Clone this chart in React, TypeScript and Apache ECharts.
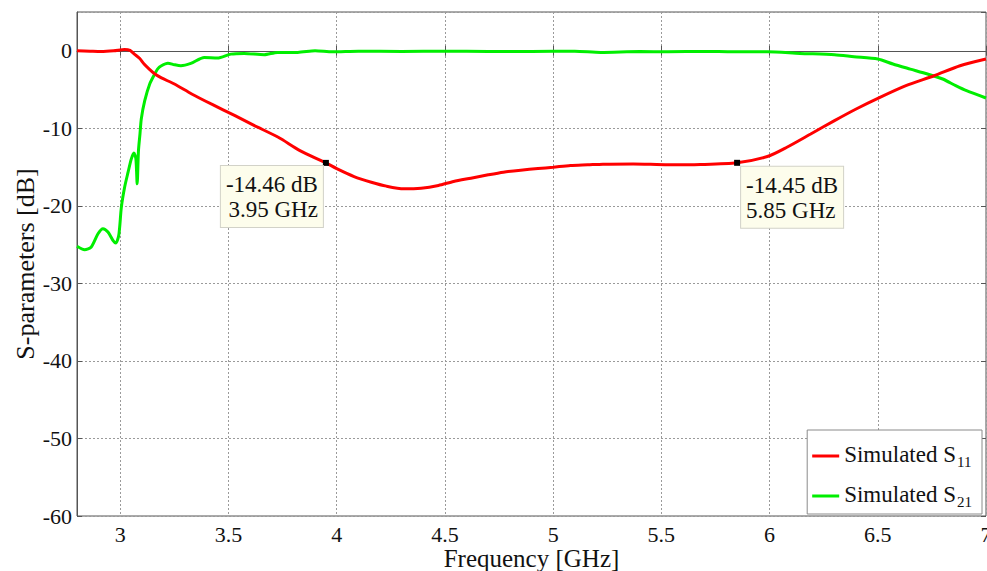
import React, { useEffect, useRef } from "react";
import * as echarts from "echarts";

// Frequency sweep (GHz) and simulated reflection coefficient S11 (dB)
const s11Data: [number, number][] = [
  [2.8, 0.0], [2.86, -0.05], [2.91, -0.09], [2.97, 0.0], [3.02, 0.17], [3.045, 0.05],
  [3.065, -0.43], [3.09, -1.0], [3.11, -1.71], [3.135, -2.4], [3.16, -3.0], [3.19, -3.5],
  [3.25, -4.29], [3.33, -5.57], [3.42, -6.86], [3.53, -8.37], [3.62, -9.65], [3.73, -11.16],
  [3.83, -12.87], [3.95, -14.46], [4.0, -15.2], [4.08, -16.22], [4.16, -16.95], [4.23, -17.46],
  [4.31, -17.8], [4.39, -17.72], [4.47, -17.37], [4.54, -16.86], [4.62, -16.43], [4.7, -16.0],
  [4.77, -15.66], [4.85, -15.4], [4.93, -15.19], [5.0, -15.02], [5.08, -14.8], [5.16, -14.71],
  [5.23, -14.62], [5.37, -14.59], [5.53, -14.71], [5.68, -14.67], [5.85, -14.45], [5.99, -13.64],
  [6.08, -12.44], [6.19, -10.73], [6.3, -9.01], [6.4, -7.51], [6.51, -6.01], [6.63, -4.5],
  [6.76, -3.22], [6.88, -1.93], [7.0, -1.07],
];

// Simulated transmission coefficient S21 (dB)
const s21Data: [number, number][] = [
  [2.8, -25.2], [2.835, -25.65], [2.866, -25.3], [2.897, -23.6], [2.92, -22.95], [2.943, -23.38],
  [2.966, -24.45], [2.979, -24.8], [2.993, -23.8], [3.005, -20.17], [3.02, -17.6], [3.036, -15.66],
  [3.051, -13.94], [3.063, -13.2], [3.072, -13.9], [3.078, -17.16], [3.084, -12.87], [3.091, -10.72],
  [3.097, -8.79], [3.113, -6.44], [3.136, -4.29], [3.159, -3.0], [3.172, -2.36], [3.19, -1.93],
  [3.22, -1.6], [3.25, -1.8], [3.28, -1.93], [3.326, -1.63], [3.388, -0.86], [3.449, -0.94],
  [3.511, -0.43], [3.572, -0.34], [3.665, -0.51], [3.726, -0.21], [3.82, -0.21], [3.9, 0.0],
  [3.98, -0.13], [4.1, -0.05], [4.3, -0.1], [4.5, -0.05], [4.7, -0.08], [4.9, -0.1], [5.1, -0.05],
  [5.22, -0.21], [5.4, -0.1], [5.53, -0.13], [5.7, -0.08], [5.83, -0.13], [5.99, -0.13],
  [6.14, -0.34], [6.3, -0.51], [6.39, -0.77], [6.5, -1.07], [6.57, -1.71], [6.65, -2.36],
  [6.73, -3.0], [6.8, -3.64], [6.86, -4.5], [6.91, -5.15], [7.0, -6.09],
];

// Data tips on the S11 curve: [frequency GHz, level dB]
const dataTips: [number, number][] = [
  [3.95, -14.46],
  [5.85, -14.45],
];

const seriesNames = ["Simulated S11", "Simulated S21"];
const xRange = [2.8, 7];
const yRange = [-60, 5];

const FONT = "Liberation Serif";

export default function App() {
  const ref = useRef<HTMLDivElement>(null);

  useEffect(() => {
    if (!ref.current) return;
    const chart = echarts.init(ref.current, undefined, { renderer: "svg" });

    const gridLine = { show: true, lineStyle: { color: "#9a9a9a", width: 1, type: [2, 2] as number[] } };
    const tickStyle = { show: true, inside: true, length: 5, lineStyle: { color: "#555" } };

    chart.setOption({
      animation: false,
      backgroundColor: "#ffffff",
      textStyle: { fontFamily: FONT },
      grid: {
        left: 77,
        right: 1,
        top: 12,
        bottom: 55,
        outerBoundsMode: "none",
        containLabel: false,
        show: true,
        borderColor: "#555",
        borderWidth: 1,
        backgroundColor: "transparent",
      },
      legend: {
        orient: "vertical",
        right: 5,
        bottom: 57,
        data: seriesNames,
        icon: "rect",
        itemWidth: 27,
        itemHeight: 3,
        itemGap: 5,
        padding: [4, 10, 5, 5],
        backgroundColor: "#ffffff",
        borderColor: "#8a8a8a",
        borderWidth: 1,
        borderRadius: 0,
        formatter: (name: string) => {
          const base = name.slice(0, -2);
          const sub = name.slice(-2);
          return `{n|${base}}{s|${sub}}`;
        },
        textStyle: {
          color: "#111",
          fontFamily: FONT,
          rich: {
            n: { fontSize: 23, fontFamily: FONT, color: "#111", lineHeight: 26, verticalAlign: "top" },
            s: {
              fontSize: 15,
              fontFamily: FONT,
              color: "#111",
              lineHeight: 16,
              verticalAlign: "bottom",
              padding: [20, 0, 0, 1],
            },
          },
        },
      },
      xAxis: [
        {
          type: "value",
          min: xRange[0],
          max: xRange[1],
          minInterval: 0.5,
          maxInterval: 0.5,
          name: "Frequency [GHz]",
          nameLocation: "middle",
          nameGap: 30,
          nameMoveOverlap: false,
          nameTextStyle: { fontFamily: FONT, fontSize: 25, color: "#111", lineHeight: 25 },
          axisLine: { show: true, lineStyle: { color: "#555" } },
          axisTick: tickStyle,
          axisLabel: {
            fontFamily: FONT,
            fontSize: 22,
            color: "#111",
            margin: 7,
            lineHeight: 22,
            showMinLabel: false,
          },
          splitLine: gridLine,
        },
        {
          type: "value",
          position: "top",
          min: xRange[0],
          max: xRange[1],
          minInterval: 0.5,
          maxInterval: 0.5,
          axisLine: { show: false },
          axisTick: tickStyle,
          axisLabel: { show: false },
          splitLine: { show: false },
        },
      ],
      yAxis: [
        {
          type: "value",
          min: yRange[0],
          max: yRange[1],
          interval: 10,
          name: "S-parameters [dB]",
          nameLocation: "middle",
          nameGap: 39,
          nameMoveOverlap: false,
          nameTextStyle: { fontFamily: FONT, fontSize: 26, color: "#111" },
          axisLine: { show: true, lineStyle: { color: "#555" } },
          axisTick: tickStyle,
          axisLabel: {
            fontFamily: FONT,
            fontSize: 22,
            color: "#111",
            margin: 5,
            showMaxLabel: false,
          },
          splitLine: gridLine,
        },
        {
          type: "value",
          position: "right",
          min: yRange[0],
          max: yRange[1],
          interval: 10,
          axisLine: { show: false },
          axisTick: tickStyle,
          axisLabel: { show: false },
          splitLine: { show: false },
        },
      ],
      series: [
        {
          name: seriesNames[0],
          type: "line",
          data: s11Data,
          symbol: "none",
          smooth: 0.25,
          lineStyle: { color: "#ff0000", width: 3 },
          itemStyle: { color: "#ff0000" },
          z: 3,
          markPoint: {
            symbol: "rect",
            symbolSize: 6,
            itemStyle: { color: "#000000" },
            data: dataTips.map(([f, db], i) => ({
              coord: [f, db],
              value: db,
              label: {
                show: true,
                position: i === 0 ? [0, 6] : [7, 7],
                align: i === 0 ? "right" : "left",
                verticalAlign: "top",
                formatter: () => `${db.toFixed(2)} dB\n${f.toFixed(2)} GHz`,
                fontFamily: FONT,
                fontSize: 23,
                lineHeight: 25,
                color: "#111",
                backgroundColor: "#fdfdec",
                borderColor: "#d2d2c8",
                borderWidth: 1,
                padding: [6, 5, 5, 5],
              },
            })),
          },
        },
        {
          name: seriesNames[1],
          type: "line",
          data: s21Data,
          symbol: "none",
          smooth: 0.25,
          lineStyle: { color: "#00ee00", width: 3 },
          itemStyle: { color: "#00ee00" },
          z: 2,
        },
      ],
    });

    return () => chart.dispose();
  }, []);

  return (
    <div
      ref={ref}
      style={{ position: "fixed", left: 0, top: 0, width: 987, height: 571, background: "#fff" }}
    />
  );
}
